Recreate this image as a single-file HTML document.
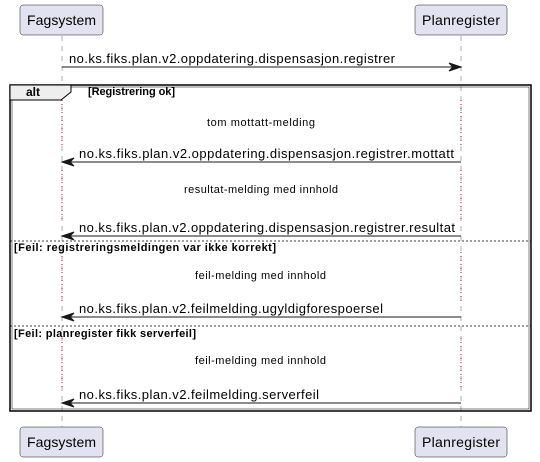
<!DOCTYPE html>
<html><head><meta charset="utf-8"><style>html,body{margin:0;padding:0;background:#fff}svg{display:block}</style></head>
<body>
<svg width="540" height="462" viewBox="0 0 540 462" xmlns="http://www.w3.org/2000/svg" font-family="Liberation Sans, sans-serif">
<g stroke="#999" stroke-width="0.8" stroke-dasharray="5,5">
<line x1="62" y1="36" x2="62" y2="427"/>
<line x1="461" y1="36" x2="461" y2="427"/>
</g>
<g stroke="#b00040" stroke-width="1" stroke-dasharray="1,3">
<line x1="62" y1="100" x2="62" y2="146"/><line x1="461" y1="100" x2="461" y2="146"/>
<line x1="62" y1="170" x2="62" y2="220"/><line x1="461" y1="170" x2="461" y2="220"/>
<line x1="62" y1="252" x2="62" y2="302"/><line x1="461" y1="252" x2="461" y2="302"/>
<line x1="62" y1="338" x2="62" y2="388"/><line x1="461" y1="338" x2="461" y2="388"/>
</g>
<g fill="#e2e2f0" stroke="#181818" stroke-width="0.5">
<rect x="20" y="5" width="83" height="30" rx="3"/>
<rect x="415" y="5" width="92" height="30" rx="3"/>
<rect x="20" y="427" width="83" height="30" rx="3"/>
<rect x="415" y="427" width="92" height="30" rx="3"/>
</g>
<g font-size="14" fill="#000">
<text x="27" y="25" textLength="69">Fagsystem</text>
<text x="422" y="25" textLength="78">Planregister</text>
<text x="27" y="447" textLength="69">Fagsystem</text>
<text x="422" y="447" textLength="78">Planregister</text>
</g>
<rect x="10" y="85" width="521" height="326" fill="none" stroke="#000" stroke-width="1.5"/>
<rect x="12" y="87" width="517" height="322" fill="none" stroke="#000" stroke-width="0.5"/>
<path d="M10 85 H71 V92 L61 100 H10 Z" fill="#eee" stroke="#000" stroke-width="1"/>
<text x="26" y="96" font-size="12" font-weight="bold">alt</text>
<g font-size="11" font-weight="bold">
<text x="88" y="95" textLength="87">[Registrering ok]</text>
<text x="14" y="251" textLength="262">[Feil: registreringsmeldingen var ikke korrekt]</text>
<text x="14" y="337" textLength="182">[Feil: planregister fikk serverfeil]</text>
</g>
<g stroke="#000" stroke-width="0.8" stroke-dasharray="2,2">
<line x1="10" y1="241" x2="531" y2="241"/>
<line x1="10" y1="326" x2="531" y2="326"/>
</g>
<g font-size="11">
<text x="207" y="126" textLength="108">tom mottatt-melding</text>
<text x="184" y="193" textLength="154">resultat-melding med innhold</text>
<text x="195" y="279" textLength="131">feil-melding med innhold</text>
<text x="195" y="364" textLength="131">feil-melding med innhold</text>
</g>
<g stroke="#181818" stroke-width="1" fill="#181818">
<line x1="62" y1="67" x2="459" y2="67"/><path d="M461 67 L449 63 L453 67 L449 71 Z"/>
<line x1="64" y1="162" x2="461" y2="162"/><path d="M62 162 L74 158 L70 162 L74 166 Z"/>
<line x1="64" y1="236" x2="461" y2="236"/><path d="M62 236 L74 232 L70 236 L74 240 Z"/>
<line x1="64" y1="317" x2="461" y2="317"/><path d="M62 317 L74 313 L70 317 L74 321 Z"/>
<line x1="64" y1="403" x2="461" y2="403"/><path d="M62 403 L74 399 L70 403 L74 407 Z"/>
</g>
<g font-size="13" fill="#000">
<text x="69" y="63" textLength="326">no.ks.fiks.plan.v2.oppdatering.dispensasjon.registrer</text>
<text x="79" y="158" textLength="375">no.ks.fiks.plan.v2.oppdatering.dispensasjon.registrer.mottatt</text>
<text x="79" y="232" textLength="376">no.ks.fiks.plan.v2.oppdatering.dispensasjon.registrer.resultat</text>
<text x="79" y="313" textLength="304">no.ks.fiks.plan.v2.feilmelding.ugyldigforespoersel</text>
<text x="79" y="399" textLength="240">no.ks.fiks.plan.v2.feilmelding.serverfeil</text>
</g>
</svg>
</body></html>
